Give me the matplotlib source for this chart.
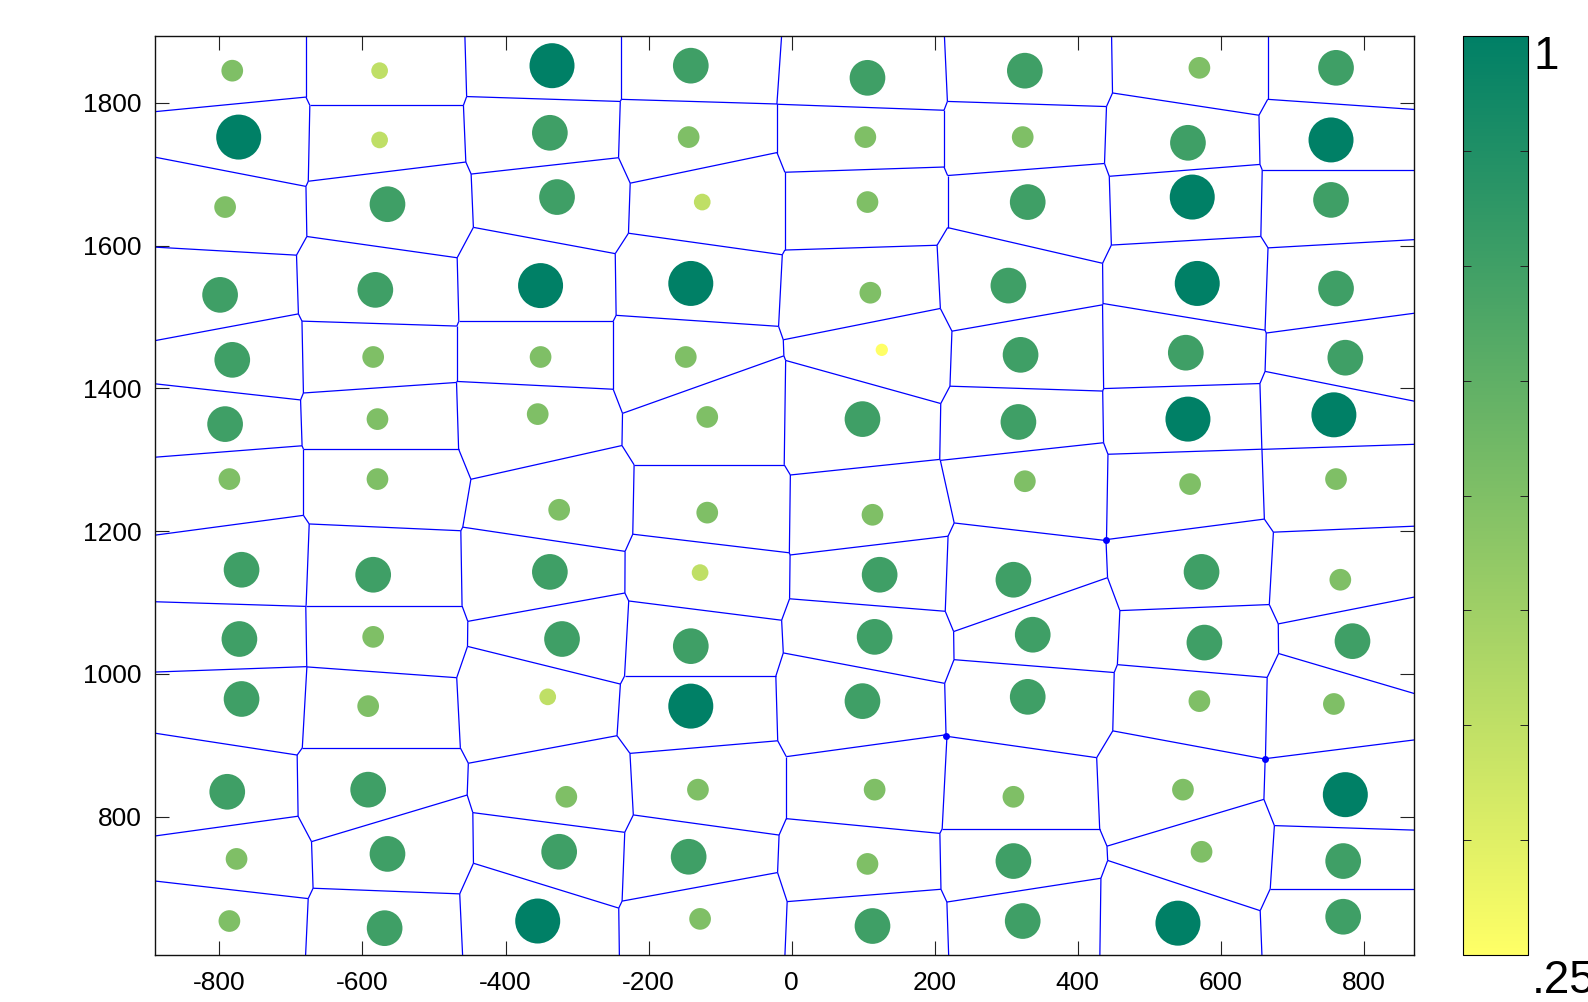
import numpy as np
import matplotlib
matplotlib.use("Agg")
import matplotlib.pyplot as plt
import matplotlib.tri as mtri
from matplotlib.collections import LineCollection
from matplotlib.colors import Normalize
from matplotlib import cm

plt.rcParams['font.family'] = ['Liberation Sans', 'DejaVu Sans']
plt.rcParams['axes.unicode_minus'] = False

# sample sites on the field, one list per row (top row first)
x_sites = [
    [-782, -576, -335, -141, 106, 326, 570, 761],
    [-773, -576, -338, -144, 103, 323, 554, 754],
    [-792, -565, -328, -125, 106, 330, 560, 754],
    [-799, -582, -351, -141, 110, 303, 567, 761],
    [-782, -585, -351, -148, 126, 320, 551, 774],
    [-792, -579, -355, -118, 99, 317, 554, 758],
    [-786, -579, -325, -118, 113, 326, 557, 761],
    [-769, -585, -338, -128, 123, 310, 573, 767],
    [-772, -585, -321, -141, 116, 337, 577, 784],
    [-769, -592, -341, -141, 99, 330, 570, 758],
    [-789, -592, -315, -131, 116, 310, 547, 774],
    [-776, -565, -325, -144, 106, 310, 573, 771],
    [-786, -569, -355, -128, 113, 323, 540, 771],
]
y_sites = [
    [1845, 1845, 1852, 1852, 1835, 1845, 1849, 1849],
    [1752, 1748, 1758, 1752, 1752, 1752, 1744, 1748],
    [1654, 1658, 1668, 1661, 1661, 1661, 1668, 1664],
    [1531, 1538, 1544, 1547, 1534, 1544, 1547, 1540],
    [1440, 1444, 1444, 1444, 1454, 1447, 1450, 1443],
    [1350, 1357, 1364, 1360, 1357, 1353, 1357, 1363],
    [1273, 1273, 1230, 1226, 1223, 1270, 1266, 1273],
    [1146, 1139, 1143, 1142, 1139, 1132, 1143, 1132],
    [1049, 1052, 1049, 1039, 1052, 1055, 1044, 1046],
    [965, 955, 968, 955, 962, 968, 962, 958],
    [835, 838, 828, 838, 838, 828, 838, 831],
    [741, 748, 751, 744, 734, 738, 751, 738],
    [654, 644, 654, 657, 647, 654, 651, 660],
]
site_values = [
    [0.625, 0.4375, 1.0, 0.8125, 0.8125, 0.8125, 0.625, 0.8125],
    [1.0, 0.4375, 0.8125, 0.625, 0.625, 0.625, 0.8125, 1.0],
    [0.625, 0.8125, 0.8125, 0.4375, 0.625, 0.8125, 1.0, 0.8125],
    [0.8125, 0.8125, 1.0, 1.0, 0.625, 0.8125, 1.0, 0.8125],
    [0.8125, 0.625, 0.625, 0.625, 0.25, 0.8125, 0.8125, 0.8125],
    [0.8125, 0.625, 0.625, 0.625, 0.8125, 0.8125, 1.0, 1.0],
    [0.625, 0.625, 0.625, 0.625, 0.625, 0.625, 0.625, 0.625],
    [0.8125, 0.8125, 0.8125, 0.4375, 0.8125, 0.8125, 0.8125, 0.625],
    [0.8125, 0.625, 0.8125, 0.8125, 0.8125, 0.8125, 0.8125, 0.8125],
    [0.8125, 0.625, 0.4375, 1.0, 0.8125, 0.8125, 0.625, 0.625],
    [0.8125, 0.8125, 0.625, 0.625, 0.625, 0.625, 0.625, 1.0],
    [0.625, 0.8125, 0.8125, 0.8125, 0.625, 0.8125, 0.625, 0.8125],
    [0.625, 0.8125, 1.0, 0.625, 0.8125, 0.8125, 1.0, 0.8125],
]

# four cells sharing one Voronoi vertex, given by (row, col) of the upper-left cell
junctions = [(6, 5), (9, 4), (9, 6)]

x_ticks = [-800, -600, -400, -200, 0, 200, 400, 600, 800]
y_ticks = [800, 1000, 1200, 1400, 1600, 1800]
value_min, value_max = 0.25, 1.0

pts = np.column_stack([np.ravel(x_sites), np.ravel(y_sites)]).astype(float)
vals = np.ravel(site_values)
n_cols = len(x_sites[0])


def circumcenters(p, tris):
    a, b, c = p[tris[:, 0]], p[tris[:, 1]], p[tris[:, 2]]
    d = 2 * (a[:, 0] * (b[:, 1] - c[:, 1]) + b[:, 0] * (c[:, 1] - a[:, 1])
             + c[:, 0] * (a[:, 1] - b[:, 1]))
    a2, b2, c2 = (a ** 2).sum(1), (b ** 2).sum(1), (c ** 2).sum(1)
    ux = (a2 * (b[:, 1] - c[:, 1]) + b2 * (c[:, 1] - a[:, 1]) + c2 * (a[:, 1] - b[:, 1])) / d
    uy = (a2 * (c[:, 0] - b[:, 0]) + b2 * (a[:, 0] - c[:, 0]) + c2 * (b[:, 0] - a[:, 0])) / d
    return np.column_stack([ux, uy])


def voronoi_segments(p, far=5000.0):
    # dual of the Delaunay triangulation: join circumcenters of neighbouring
    # triangles, send a ray outwards across every hull edge
    tri = mtri.Triangulation(p[:, 0], p[:, 1])
    tris, nbrs = tri.triangles, tri.neighbors
    centers = circumcenters(p, tris)
    middle = p.mean(axis=0)
    segs = []
    for i in range(len(tris)):
        for j in range(3):
            k = nbrs[i, j]
            if k > i:
                segs.append([centers[i], centers[k]])
            elif k == -1:
                p0, p1 = p[tris[i, j]], p[tris[i, (j + 1) % 3]]
                t = (p1 - p0) / np.linalg.norm(p1 - p0)
                n = np.array([-t[1], t[0]])
                mid = (p0 + p1) / 2
                direction = np.sign(np.dot(mid - middle, n)) * n
                segs.append([centers[i], centers[i] + direction * far])
    return segs


def shared_vertex(quad):
    # least-squares circle through the four sites, its centre is the vertex
    A = np.column_stack([quad[:, 0], quad[:, 1], np.ones(len(quad))])
    rhs = -(quad ** 2).sum(1)
    a, b, _ = np.linalg.lstsq(A, rhs, rcond=None)[0]
    return -a / 2, -b / 2


W, H = 1588, 1002
fig = plt.figure(figsize=(W / 100, H / 100), dpi=100)
ax = fig.add_axes([155 / W, 1 - 955.3 / H, (1414 - 155) / W, (955.3 - 35.7) / H])

segs = voronoi_segments(pts)
ax.add_collection(LineCollection(segs, colors='#0000ff', linewidths=0.9, zorder=2))

jx, jy = [], []
for r, c in junctions:
    idx = [r * n_cols + c, r * n_cols + c + 1, (r + 1) * n_cols + c, (r + 1) * n_cols + c + 1]
    vx, vy = shared_vertex(pts[idx])
    jx.append(vx)
    jy.append(vy)
ax.scatter(jx, jy, s=25, color='#0000ff', linewidths=0, zorder=3)

# marker diameter (px) grows with the value
diam = np.interp(vals, [0.25, 0.4375, 0.625, 0.8125, 1.0], [12.3, 16.7, 21.7, 35.7, 45.0])
sizes = (diam * 72 / 100) ** 2
cmap = plt.get_cmap('summer_r')
norm = Normalize(value_min, value_max)
ax.scatter(pts[:, 0], pts[:, 1], s=sizes, c=vals, cmap=cmap, norm=norm,
           linewidths=0, zorder=4)

ax.set_xlim(-890, 870)
ax.set_ylim(606, 1894)
ax.set_xticks(x_ticks)
ax.set_yticks(y_ticks)
ax.tick_params(direction='in', length=10, width=0.8, color='#222222',
               top=True, right=True, labelsize=19)
ax.tick_params(axis='x', pad=11.5)
ax.tick_params(axis='y', pad=9.6)
for sp in ax.spines.values():
    sp.set_linewidth(1.0)
    sp.set_color('#111111')

# colour scale
cax = fig.add_axes([1463 / W, 1 - 955.3 / H, 65 / W, (955.3 - 35.7) / H])
cb = fig.colorbar(cm.ScalarMappable(norm=norm, cmap=cmap), cax=cax)
cb.set_ticks(np.linspace(value_min, value_max, 9))
cb.set_ticklabels([])
cb.outline.set_linewidth(0.8)
cax.tick_params(direction='in', length=5.5, width=0.7, color='#222222',
                left=True, right=True)
cax.annotate('1', xy=(1, 1), xycoords='axes fraction', xytext=(4, -24),
             textcoords='offset points', ha='left', va='baseline', fontsize=33)
cax.annotate('.25', xy=(1, 0), xycoords='axes fraction', xytext=(3, -27),
             textcoords='offset points', ha='left', va='baseline', fontsize=33,
             annotation_clip=False)

fig.savefig('out.png', dpi=100)
